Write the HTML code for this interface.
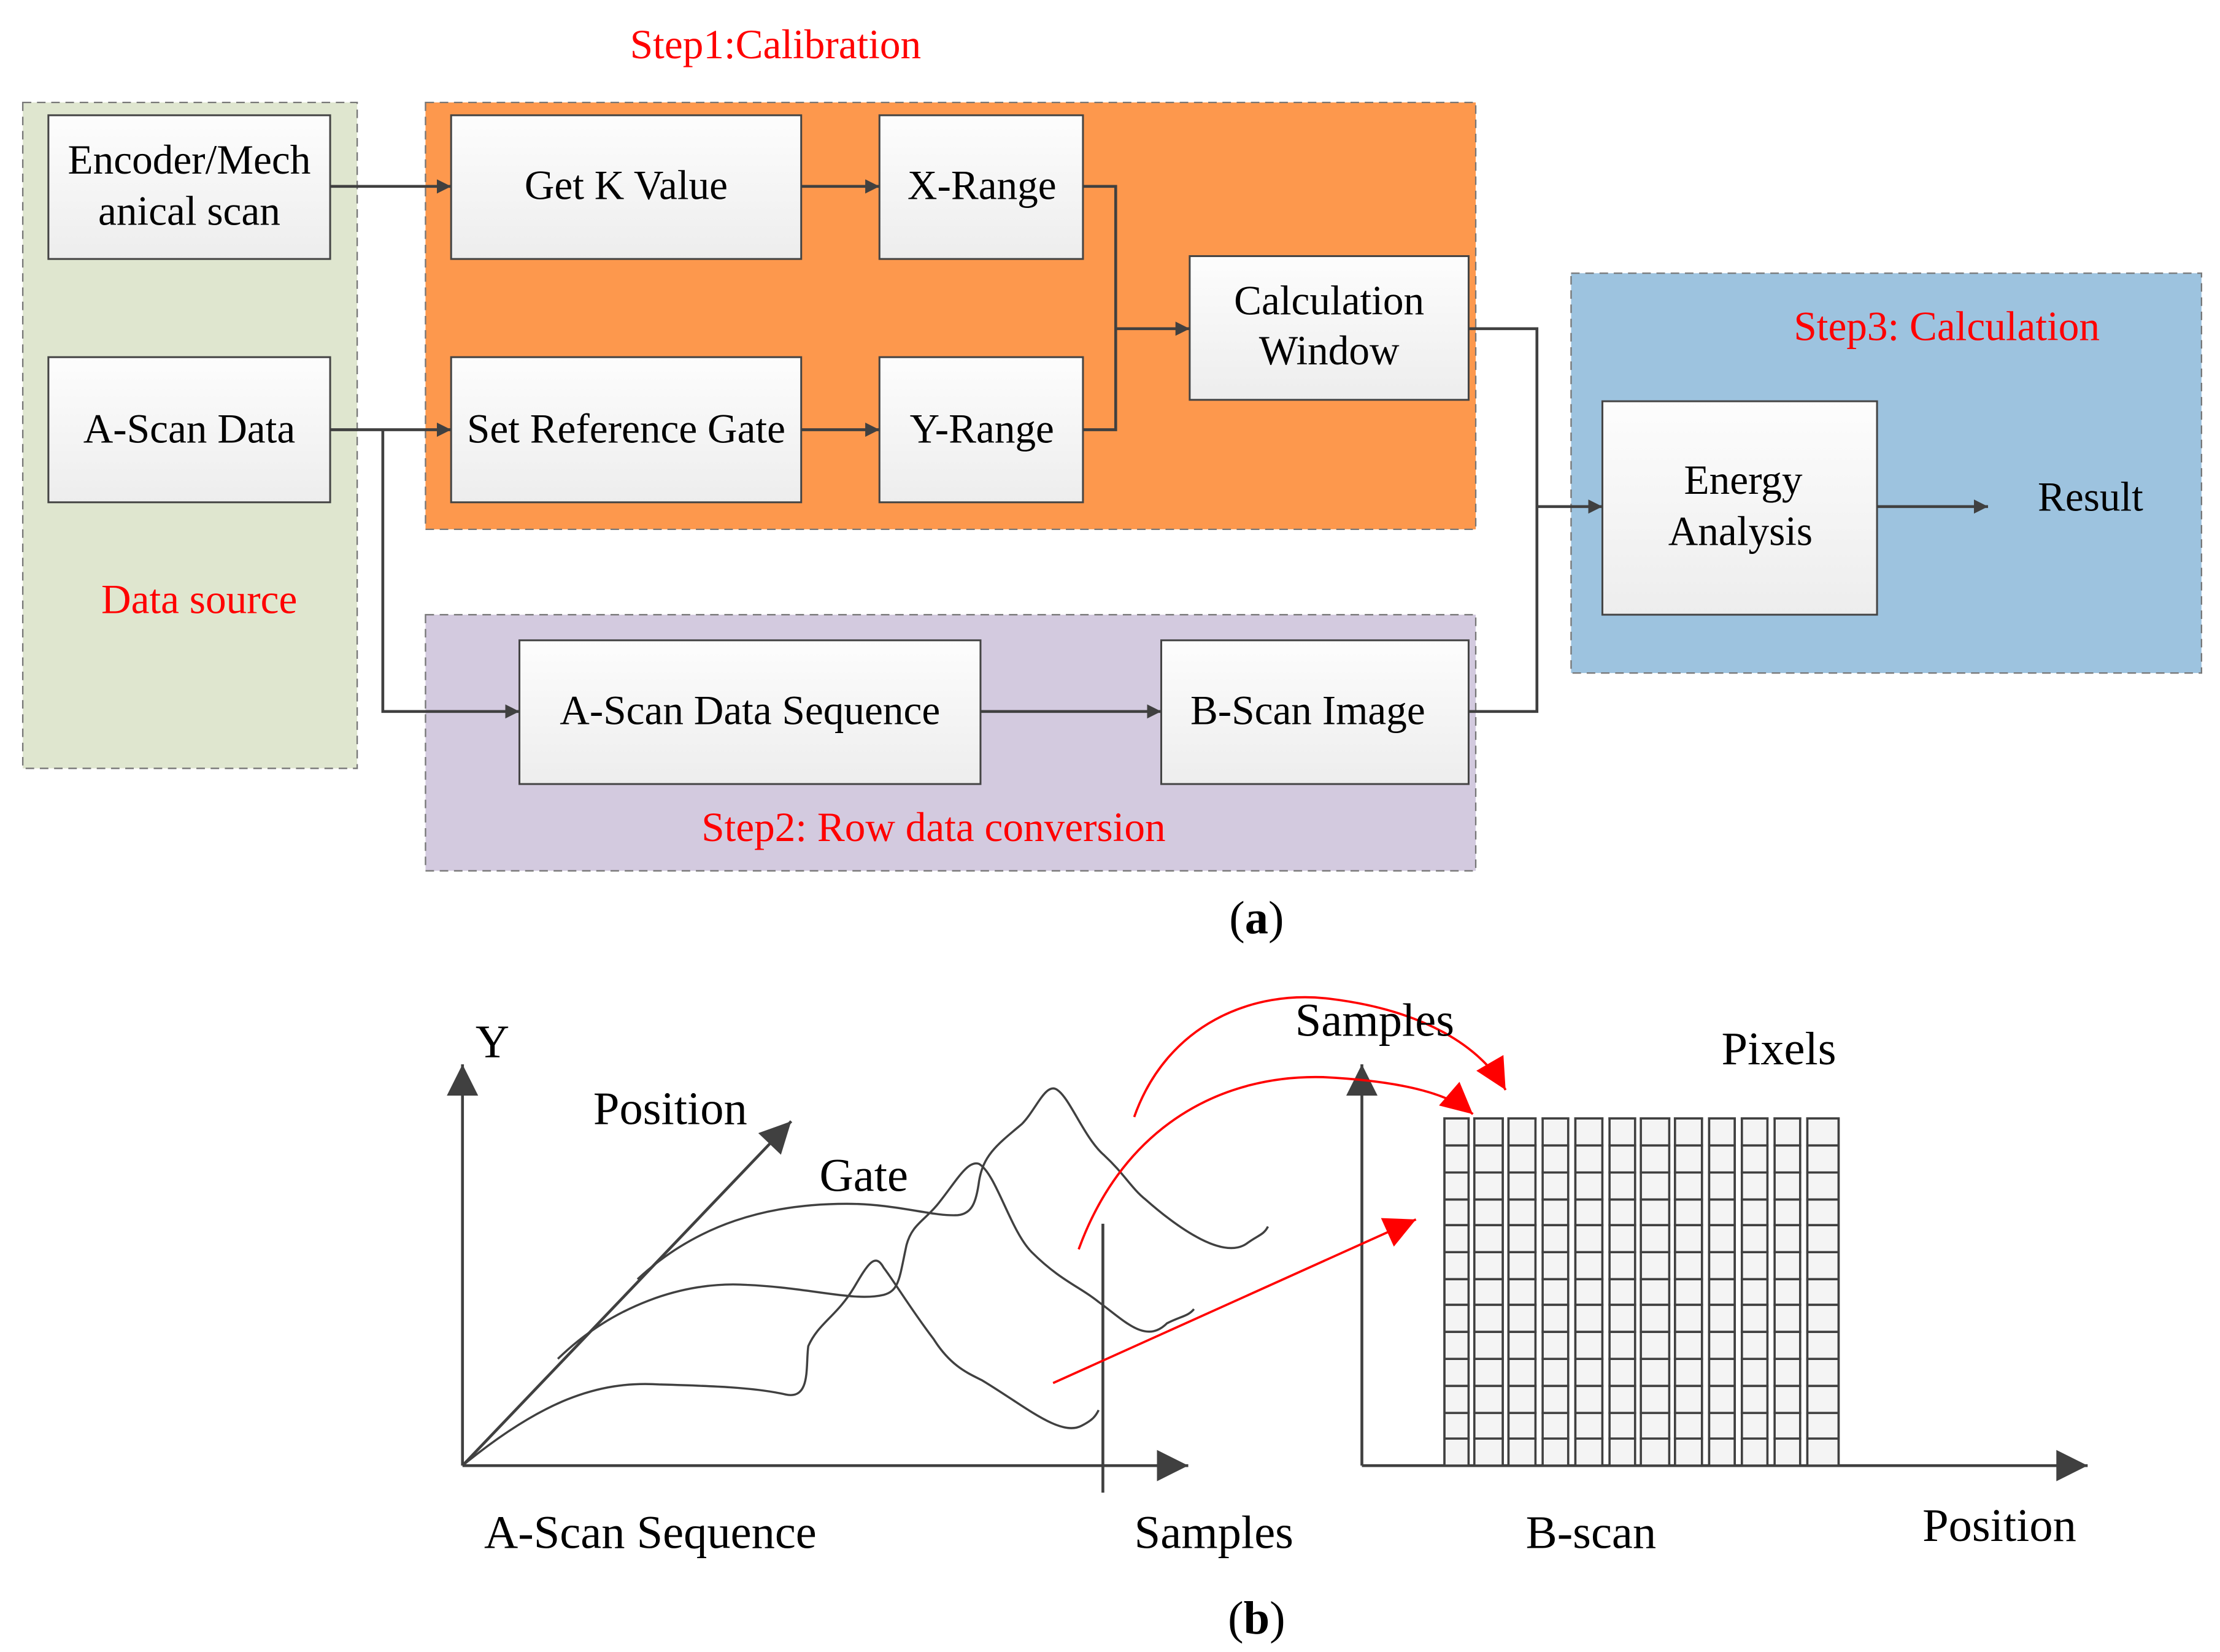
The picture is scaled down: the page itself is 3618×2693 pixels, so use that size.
<!DOCTYPE html>
<html><head><meta charset="utf-8"><style>
html,body{margin:0;padding:0;background:#fff}
svg{display:block}
text{font-family:"Liberation Serif",serif}
</style></head><body>
<svg width="3618" height="2693" viewBox="0 0 1560 1161" preserveAspectRatio="none" xmlns="http://www.w3.org/2000/svg">
<defs>
<linearGradient id="g" x1="0" y1="0" x2="0" y2="1"><stop offset="0" stop-color="#fdfdfd"/><stop offset="1" stop-color="#ededed"/></linearGradient>
<marker id="a" viewBox="0 0 10 10" refX="10" refY="5" markerWidth="10" markerHeight="10" markerUnits="userSpaceOnUse" orient="auto"><path d="M0,0L10,5L0,10z" fill="#404040"/></marker>
<marker id="ab" viewBox="0 0 10 10" refX="10" refY="5" markerWidth="28" markerHeight="22" markerUnits="userSpaceOnUse" orient="auto"><path d="M0,0L10,5L0,10z" fill="#404040"/></marker>
<marker id="ar" viewBox="0 0 10 10" refX="10" refY="5" markerWidth="28" markerHeight="22" markerUnits="userSpaceOnUse" orient="auto"><path d="M0,0L10,5L0,10z" fill="#ff0000"/></marker>
</defs>
<rect x="16" y="72" width="235" height="468" fill="#dfe6cf" stroke="#777" stroke-dasharray="6,4"/>
<rect x="299" y="72" width="738" height="300" fill="#fd984d" stroke="#777" stroke-dasharray="6,4"/>
<rect x="299" y="432" width="738" height="180" fill="#d3cadf" stroke="#777" stroke-dasharray="6,4"/>
<rect x="1104" y="192" width="443" height="281" fill="#9dc3df" stroke="#777" stroke-dasharray="6,4"/>
<g fill="url(#g)" stroke="#444" stroke-width="1.3">
<rect x="34" y="81" width="198" height="101"/>
<rect x="34" y="251" width="198" height="102"/>
<rect x="317" y="81" width="246" height="101"/>
<rect x="317" y="251" width="246" height="102"/>
<rect x="618" y="81" width="143" height="101"/>
<rect x="618" y="251" width="143" height="102"/>
<rect x="836" y="180" width="196" height="101"/>
<rect x="365" y="450" width="324" height="101"/>
<rect x="816" y="450" width="216" height="101"/>
<rect x="1126" y="282" width="193" height="150"/>
</g>
<g stroke="#404040" stroke-width="2" fill="none">
<path d="M232,131H317" marker-end="url(#a)"/>
<path d="M232,302H317" marker-end="url(#a)"/>
<path d="M269,302V500H365" marker-end="url(#a)"/>
<path d="M563,131H618" marker-end="url(#a)"/>
<path d="M563,302H618" marker-end="url(#a)"/>
<path d="M761,131H784V302H761"/>
<path d="M784,231H836" marker-end="url(#a)"/>
<path d="M689,500H816" marker-end="url(#a)"/>
<path d="M1032,231H1080V500H1032"/>
<path d="M1080,356H1126" marker-end="url(#a)"/>
<path d="M1319,356H1397" marker-end="url(#a)"/>
</g>
<g font-size="29" text-anchor="middle" fill="#000">
<text x="133" y="122">Encoder/Mech</text>
<text x="133" y="158">anical scan</text>
<text x="133" y="311">A-Scan Data</text>
<text x="440" y="140">Get K Value</text>
<text x="440" y="311">Set Reference Gate</text>
<text x="690" y="140">X-Range</text>
<text x="690" y="311">Y-Range</text>
<text x="934" y="221">Calculation</text>
<text x="934" y="256">Window</text>
<text x="527" y="509">A-Scan Data Sequence</text>
<text x="919" y="509">B-Scan Image</text>
<text x="1225" y="347">Energy</text>
<text x="1223" y="383">Analysis</text>
<text x="1469" y="359">Result</text>
</g>
<g font-size="29" text-anchor="middle" fill="#ff0000">
<text x="545" y="41">Step1:Calibration</text>
<text x="140" y="431">Data source</text>
<text x="1368" y="239">Step3: Calculation</text>
<text x="656" y="591">Step2: Row data conversion</text>
</g>
<text x="883" y="656" font-size="33" text-anchor="middle">(<tspan font-weight="bold">a</tspan>)</text>
<g stroke="#404040" stroke-width="2" fill="none">
<path d="M325,1030V748" marker-end="url(#ab)"/>
<path d="M325,1030H835" marker-end="url(#ab)"/>
<path d="M325,1030L556,788" marker-end="url(#ab)"/>
<path d="M957,1030V748" marker-end="url(#ab)"/>
<path d="M957,1030H1467" marker-end="url(#ab)"/>
<path d="M775,860V1049"/>
</g>
<g stroke="#404040" stroke-width="1.5" fill="none">
<path d="M325,1030C380,985 420,970 464,973C500,974 530,975 552,980C570,984 566,960 568,946C575,930 588,925 600,905C610,888 615,880 621,891C628,900 640,920 656,941C668,960 680,965 690,970C720,988 745,1010 760,1002C768,998 770,995 772,991"/>
<path d="M392,955C430,918 480,900 525,903C570,905 600,915 621,910C632,907 632,898 637,875C641,860 650,858 660,845C672,830 680,815 688,818C700,825 710,865 725,880C745,900 760,905 772,915C790,928 805,945 820,930C830,925 835,925 839,920"/>
<path d="M448,899C490,860 540,846 595,846C630,846 655,855 673,854C683,853 686,845 688,830C691,812 700,805 718,790C728,780 735,760 743,766C752,772 762,800 776,812C790,825 795,835 805,843C830,865 860,885 876,874C884,868 888,868 891,862"/>
</g>
<g stroke="#ff0000" stroke-width="1.6" fill="none">
<path d="M797,785C820,720 880,695 935,702C1000,710 1040,735 1058,766" marker-end="url(#ar)"/>
<path d="M758,878C790,790 860,755 930,757C990,760 1020,770 1035,783" marker-end="url(#ar)"/>
<path d="M740,972L995,857" marker-end="url(#ar)"/>
</g>
<g fill="#f4f4f4" stroke="#404040" stroke-width="1.6">
<rect x="1015" y="786" width="17" height="244"/>
<rect x="1036" y="786" width="20" height="244"/>
<rect x="1060" y="786" width="19" height="244"/>
<rect x="1084" y="786" width="18" height="244"/>
<rect x="1107" y="786" width="19" height="244"/>
<rect x="1131" y="786" width="18" height="244"/>
<rect x="1153" y="786" width="20" height="244"/>
<rect x="1177" y="786" width="19" height="244"/>
<rect x="1201" y="786" width="18" height="244"/>
<rect x="1224" y="786" width="18" height="244"/>
<rect x="1247" y="786" width="18" height="244"/>
<rect x="1270" y="786" width="22" height="244"/>
<path fill="none" d="M1015,805H1292M1015,824H1292M1015,843H1292M1015,861H1292M1015,880H1292M1015,899H1292M1015,917H1292M1015,936H1292M1015,955H1292M1015,974H1292M1015,993H1292M1015,1011H1292"/>
</g>
<g fill="#fff" stroke="none">
<rect x="1032.8" y="787" width="2.4" height="242"/>
<rect x="1056.8" y="787" width="2.4" height="242"/>
<rect x="1079.8" y="787" width="3.4" height="242"/>
<rect x="1102.8" y="787" width="3.4" height="242"/>
<rect x="1126.8" y="787" width="3.4" height="242"/>
<rect x="1149.8" y="787" width="2.4" height="242"/>
<rect x="1173.8" y="787" width="2.4" height="242"/>
<rect x="1196.8" y="787" width="3.4" height="242"/>
<rect x="1219.8" y="787" width="3.4" height="242"/>
<rect x="1242.8" y="787" width="3.4" height="242"/>
<rect x="1265.8" y="787" width="3.4" height="242"/>
</g>
<g font-size="33" text-anchor="middle" fill="#000">
<text x="346" y="743">Y</text>
<text x="471" y="790">Position</text>
<text x="607" y="837">Gate</text>
<text x="966" y="728">Samples</text>
<text x="1250" y="748">Pixels</text>
<text x="457" y="1088">A-Scan Sequence</text>
<text x="853" y="1088">Samples</text>
<text x="1118" y="1088">B-scan</text>
<text x="1405" y="1083">Position</text>
<text x="883" y="1148">(<tspan font-weight="bold">b</tspan>)</text>
</g>
</svg>
</body></html>
